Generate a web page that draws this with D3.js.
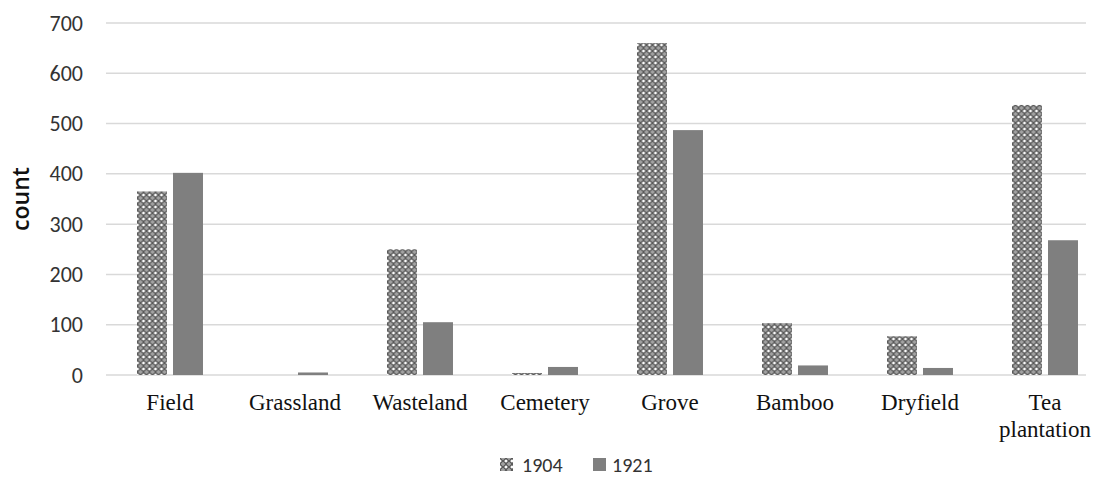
<!DOCTYPE html>
<html><head><meta charset="utf-8">
<script src="https://cdn.jsdelivr.net/npm/d3@7"></script>
<style>body{margin:0;background:#fff}svg{display:block}</style>
</head><body><svg id="c" width="1099" height="481"></svg>
<script>
const categories = ["Field","Grassland","Wasteland","Cemetery","Grove","Bamboo","Dryfield","Tea plantation"];
const seriesNames = ["1904","1921"];
const values1904 = [365, 0, 250, 4, 660, 103, 77, 537];
const values1921 = [402, 5, 105, 16, 487, 19, 14, 268];
const yTicks = [0,100,200,300,400,500,600,700];

const svg = d3.select("#c");
const W = 1099, H = 481;
const plot = {l:107.5, r:1107.5, t:23, b:375, gridL:106, gridR:1086};
const x = d3.scaleBand().domain(categories).range([plot.l, plot.r]);
const y = d3.scaleLinear().domain([0,700]).range([plot.b, plot.t]);

const defs = svg.append("defs");
const pat = defs.append("pattern").attr("id","hatch").attr("patternUnits","userSpaceOnUse")
  .attr("width",6).attr("height",6);
pat.append("rect").attr("width",6).attr("height",6).attr("fill","#fff");
pat.append("path").attr("d","M0,0L6,6M6,0L0,6").attr("stroke","#5a5a5a").attr("stroke-width",1.6);
pat.append("circle").attr("cx",3).attr("cy",0).attr("r",0.9).attr("fill","#777");
pat.append("circle").attr("cx",3).attr("cy",6).attr("r",0.9).attr("fill","#777");

// gridlines
svg.append("g").selectAll("line").data(yTicks).join("line")
  .attr("x1", plot.gridL).attr("x2", plot.gridR)
  .attr("y1", d => y(d)).attr("y2", d => y(d))
  .attr("stroke", "#d9d9d9").attr("stroke-width", 1.5);

// y tick labels
const yAxis = d3.axisLeft(y).tickValues(yTicks).tickSize(0).tickPadding(0);
const ga = svg.append("g").attr("transform", `translate(83,0)`).call(yAxis);
ga.select(".domain").remove();
ga.selectAll("text").attr("font-family","Carlito, 'Open Sans', 'Liberation Sans', sans-serif")
  .attr("font-size", 22).attr("fill","#333");

svg.append("text").attr("transform", `translate(29,${(plot.t + plot.b)/2}) rotate(-90)`)
  .attr("text-anchor","middle").attr("font-family","'Open Sans', 'Liberation Sans', sans-serif")
  .attr("font-size", 23).attr("font-weight", 600).attr("fill","#111").text("count");

// bars
const inner = d3.scaleBand().domain(seriesNames).range([0, x.bandwidth()]).paddingInner(0.167).paddingOuter(0.82);
const data = categories.map((c,i) => ({c, v:[values1904[i], values1921[i]]}));
const g = svg.append("g").selectAll("g").data(data).join("g")
  .attr("transform", d => `translate(${x(d.c)},0)`);
g.selectAll("rect").data(d => d.v.map((v,j) => ({s: seriesNames[j], v}))).join("rect")
  .attr("x", d => inner(d.s)).attr("width", inner.bandwidth())
  .attr("y", d => y(d.v)).attr("height", d => y(0) - y(d.v))
  .attr("fill", d => d.s === "1904" ? "url(#hatch)" : "#7f7f7f");

// category labels
const xl = svg.append("g").selectAll("text").data(categories).join("text")
  .attr("x", d => x(d) + x.bandwidth()/2).attr("y", plot.b + 35)
  .attr("text-anchor","middle").attr("font-family","'Liberation Serif', 'Times New Roman', serif")
  .attr("font-size", 23).attr("fill","#111");
xl.each(function(d){
  const words = d === "Tea plantation" ? ["Tea","plantation"] : [d];
  d3.select(this).selectAll("tspan").data(words).join("tspan")
    .attr("x", x(d) + x.bandwidth()/2).attr("dy", (w,i) => i ? 27 : 0).text(w => w);
});

// legend
const lg = svg.append("g").attr("transform","translate(500,458)");
const items = [{s:"1904", fill:"url(#hatch)", x:0, tx:22},{s:"1921", fill:"#7f7f7f", x:93, tx:112}];
items.forEach(it => {
  lg.append("rect").attr("x", it.x).attr("y",0).attr("width",13).attr("height",13).attr("fill", it.fill);
  lg.append("text").attr("x", it.tx).attr("y", 14).attr("font-family","Carlito, 'Open Sans', 'Liberation Sans', sans-serif")
    .attr("font-size", 20).attr("fill","#333").text(it.s);
});
</script></body></html>
